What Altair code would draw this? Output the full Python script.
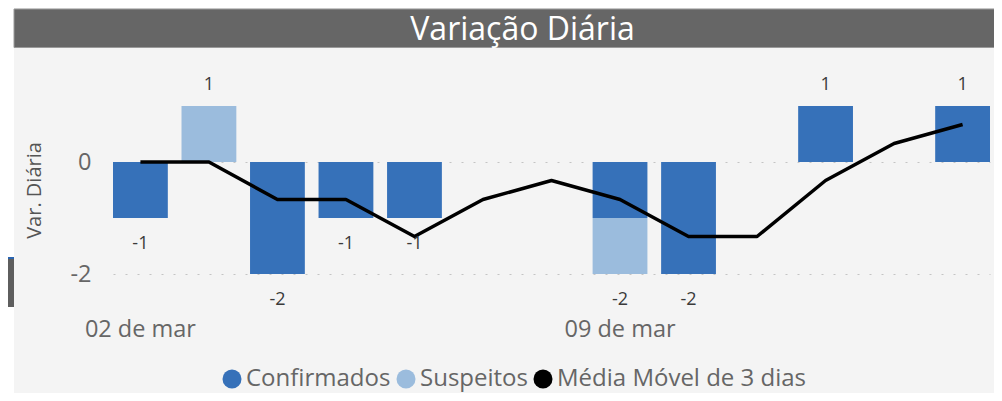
import altair as alt
import pandas as pd

# ---- data ----
dias = ["02 de mar", "03 de mar", "04 de mar", "05 de mar", "06 de mar", "07 de mar",
        "08 de mar", "09 de mar", "10 de mar", "11 de mar", "12 de mar", "13 de mar", "14 de mar"]
confirmados = [-1, 0, -2, -1, -1, 0, 0, -1, -2, 0, 1, 0, 1]
suspeitos = [0, 1, 0, 0, 0, 0, 0, -1, 0, 0, 0, 0, 0]
media_movel = [0, 0, -0.67, -0.67, -1.33, -0.67, -0.33, -0.67, -1.33, -1.33, -0.33, 0.33, 0.67]
series = ["Confirmados", "Suspeitos", "Média Móvel de 3 dias"]
cores = ["#3671b9", "#9bbcdd", "#000000"]
rotulos_x = ["02 de mar", "09 de mar"]
valores_y = [0, -2]
titulo = "Variação Diária"
titulo_y = "Var. Diária"

FONT = "Open Sans"

rows = []
for d, c, s in zip(dias, confirmados, suspeitos):
    if c:
        rows.append({"dia": d, "serie": series[0], "valor": c, "ordem": 0})
    if s:
        rows.append({"dia": d, "serie": series[1], "valor": s, "ordem": 1})
bars_df = pd.DataFrame(rows)

totais = [c + s for c, s in zip(confirmados, suspeitos)]
tot_df = pd.DataFrame({"dia": dias, "total": totais, "rotulo": [str(t) for t in totais]})
line_df = pd.DataFrame({"dia": dias, "media": media_movel, "serie": series[2]})
deco_df = pd.DataFrame({"t": [titulo]})

x_scale = alt.Scale(domain=dias, paddingInner=0.2, paddingOuter=0)
y_scale = alt.Scale(domain=[-2.5, 1.75], nice=False, zero=False)
color_scale = alt.Scale(domain=series, range=cores)

x_axis = alt.Axis(values=rotulos_x, title=None, labelAngle=0, domain=False,
                  ticks=False, tickSize=0, grid=False, labelFontSize=23.5,
                  labelColor="#666666", labelFont=FONT, labelPadding=27,
                  labelBaseline="middle")
y_axis = alt.Axis(values=valores_y, title=titulo_y, domain=False, ticks=False,
                  tickSize=0, grid=True, gridColor="#c4c4c4", gridDash=[2, 10],
                  gridWidth=1.2, labelFontSize=23.5, labelColor="#666666",
                  labelFont=FONT, labelPadding=22,
                  labelExpr="'' + datum.value",
                  titleFont=FONT, titleFontSize=20, titleFontWeight="normal",
                  titleColor="#555555", titleAngle=270, titleX=-79, titleY=126,
                  titleAlign="center", titleBaseline="middle")

x_enc = alt.X("dia:N", sort=dias, scale=x_scale, axis=x_axis)

legend = alt.Legend(title=None, orient="none", legendX=107, legendY=303,
                    direction="horizontal", symbolType="circle", symbolSize=361,
                    symbolStrokeWidth=0, labelFontSize=24, labelColor="#666666",
                    labelFont=FONT, labelOffset=2, columnPadding=3, padding=0,
                    labelLimit=0)

# decoration: title bar and left strip of the screenshot
title_bar = alt.Chart(deco_df).mark_rect(color="#666666", stroke="#9a9a9a", strokeWidth=1).encode(
    x=alt.value(-99), x2=alt.value(900), y=alt.value(-55), y2=alt.value(-16.5))
left_strip = alt.Chart(deco_df).mark_rect(color="#ffffff").encode(
    x=alt.value(-106), x2=alt.value(-99), y=alt.value(-57), y2=alt.value(330))
left_block = alt.Chart(deco_df).mark_rect(color="#5e5e5e").encode(
    x=alt.value(-106), x2=alt.value(-99), y=alt.value(194), y2=alt.value(243))
left_blue = alt.Chart(deco_df).mark_rect(color="#2a64b0").encode(
    x=alt.value(-106), x2=alt.value(-99), y=alt.value(193), y2=alt.value(195))
title_text = alt.Chart(deco_df).mark_text(font=FONT, fontSize=32, color="#ffffff",
                                          align="center", baseline="middle").encode(
    x=alt.value(409.5), y=alt.value(-34), text="t:N")

bars = alt.Chart(bars_df).mark_bar().encode(
    x=x_enc,
    y=alt.Y("valor:Q", stack="zero", scale=y_scale, axis=y_axis),
    color=alt.Color("serie:N", scale=color_scale, legend=legend),
    order=alt.Order("ordem:Q"),
)

line = alt.Chart(line_df).mark_line(strokeWidth=3.5, strokeJoin="round").encode(
    x=x_enc,
    y=alt.Y("media:Q", scale=y_scale, axis=y_axis),
    color=alt.Color("serie:N", scale=color_scale, legend=legend),
)

lab_pos = alt.Chart(tot_df).transform_filter("datum.total > 0").mark_text(
    font=FONT, fontSize=18, color="#3a3a3a", baseline="middle", dy=-21).encode(
    x=x_enc, y=alt.Y("total:Q", scale=y_scale, axis=y_axis), text="rotulo:N")
lab_neg = alt.Chart(tot_df).transform_filter("datum.total < 0").mark_text(
    font=FONT, fontSize=18, color="#3a3a3a", baseline="middle", dy=26).encode(
    x=x_enc, y=alt.Y("total:Q", scale=y_scale, axis=y_axis), text="rotulo:N")

chart = alt.layer(left_strip, left_block, left_blue, title_bar, title_text,
                  bars, line, lab_pos, lab_neg).properties(
    width=877, height=238,
    padding={"left": 105, "top": 56, "right": 4, "bottom": 91},
    autosize=alt.AutoSizeParams(type="none"),
    background="#f4f4f4",
).configure_view(stroke=None)

chart.save("out.html", embed_options={"renderer": "svg", "actions": False})
